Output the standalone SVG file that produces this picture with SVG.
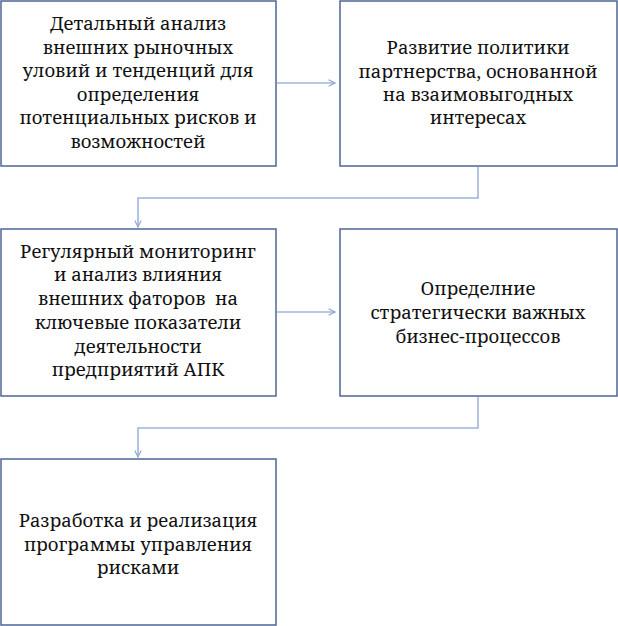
<svg xmlns="http://www.w3.org/2000/svg" width="618" height="626" viewBox="0 0 618 626">
<style>
.box{fill:#fff;stroke:#4f6596;stroke-width:1.5}
.t{font-family:"Noto Serif","DejaVu Serif",serif;font-size:18.5px;fill:#111;text-anchor:middle}
.c{fill:none;stroke:#9fb4dc;stroke-width:1.6}
</style>
<defs>
<marker id="ah" viewBox="0 0 10 10" refX="9" refY="5" markerWidth="8" markerHeight="8" markerUnits="userSpaceOnUse" orient="auto">
<path d="M1,1 L9,5 L1,9" fill="none" stroke="#8ea6d2" stroke-width="1.4"/>
</marker>
</defs>
<rect width="618" height="626" fill="#fff"/>
<g id="connectors">
<path class="c" d="M277,83 H335" marker-end="url(#ah)"/>
<path class="c" d="M478,167 V198 H138 V227" marker-end="url(#ah)"/>
<path class="c" d="M277,312 H335" marker-end="url(#ah)"/>
<path class="c" d="M478,397 V428 H138 V457" marker-end="url(#ah)"/>
</g>
<g id="n1">
<rect class="box" x="1" y="1" width="275" height="165"/>
<text class="t" x="138" y="30">Детальный анализ</text>
<text class="t" x="138" y="54">внешних рыночных</text>
<text class="t" x="138" y="77">уловий и тенденций для</text>
<text class="t" x="138" y="101">определения</text>
<text class="t" x="138" y="124">потенциальных рисков и</text>
<text class="t" x="138" y="148">возможностей</text>
</g>
<g id="n2">
<rect class="box" x="340" y="1" width="277" height="165"/>
<text class="t" x="478" y="54">Развитие политики</text>
<text class="t" x="478" y="78">партнерства, основанной</text>
<text class="t" x="478" y="101">на взаимовыгодных</text>
<text class="t" x="478" y="124">интересах</text>
</g>
<g id="n3">
<rect class="box" x="1" y="229" width="275" height="167"/>
<text class="t" x="138" y="258">Регулярный мониторинг</text>
<text class="t" x="138" y="281">и анализ влияния</text>
<text class="t" x="138" y="305" xml:space="preserve">внешних фаторов  на</text>
<text class="t" x="138" y="329">ключевые показатели</text>
<text class="t" x="138" y="353">деятельности</text>
<text class="t" x="138" y="376">предприятий АПК</text>
</g>
<g id="n4">
<rect class="box" x="340" y="229" width="277" height="167"/>
<text class="t" x="478" y="295">Определние</text>
<text class="t" x="478" y="319">стратегически важных</text>
<text class="t" x="478" y="343">бизнес-процессов</text>
</g>
<g id="n5">
<rect class="box" x="1" y="459" width="275" height="166"/>
<text class="t" x="138" y="527">Разработка и реализация</text>
<text class="t" x="138" y="551">программы управления</text>
<text class="t" x="138" y="574">рисками</text>
</g>
</svg>
